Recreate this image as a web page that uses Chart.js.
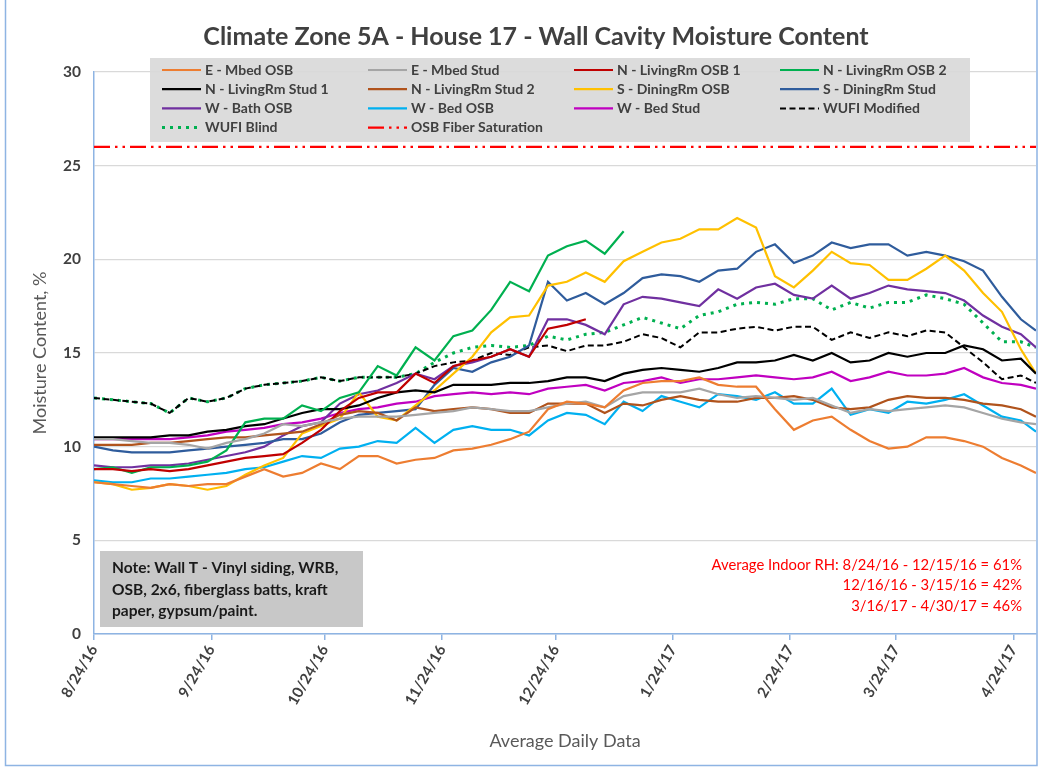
<!DOCTYPE html>
<html><head><meta charset="utf-8">
<script src="https://cdn.jsdelivr.net/npm/chart.js@4.4.0/dist/chart.umd.min.js"></script>
<style>html,body{margin:0;padding:0;background:#fff;}#wrap{width:1049px;height:768px;position:relative;}</style>
</head><body><div id="wrap"><canvas id="c" width="1049" height="768"></canvas></div>
<script>
// Day offsets from 8/24/16 at which values were read
const days = [0,5,10,15,20,25,30,35,40,45,50,55,60,65,70,75,80,85,90,95,100,105,110,115,120,125,130,135,140,145,150,155,160,165,170,175,180,185,190,195,200,205,210,215,220,225,230,235,240,245,249];
const tickDays = [0,31,61,92,122,153,184,212,243];
const tickLabels = ['8/24/16','9/24/16','10/24/16','11/24/16','12/24/16','1/24/17','2/24/17','3/24/17','4/24/17'];
const chartTitle = 'Climate Zone 5A - House 17 - Wall Cavity Moisture Content';
const seriesNames = ['E - Mbed OSB','E - Mbed Stud','N - LivingRm OSB 1','N - LivingRm OSB 2','N - LivingRm Stud 1','N - LivingRm Stud 2','S - DiningRm OSB','S - DiningRm Stud','W - Bath OSB','W - Bed OSB','W - Bed Stud','WUFI Modified','WUFI Blind','OSB Fiber Saturation'];

const mbedOSB = [8.1,8.0,7.9,7.8,8.0,7.9,8.0,8.0,8.4,8.8, 8.4,8.6,9.1,8.8,9.5,9.5,9.1,9.3,9.4,9.8, 9.9,10.1,10.4,10.8,12.0,12.4,12.3,12.1,13.0,13.4, 13.5,13.5,13.7,13.3,13.2,13.2,12.0,10.9,11.4,11.6, 10.9,10.3,9.9,10.0,10.5,10.5,10.3,10.0,9.4,9.0, 8.6];
const mbedStud = [10.4,10.4,10.3,10.2,10.2,10.1,9.9,10.2,10.4,10.7, 11.2,11.1,11.3,11.5,11.6,11.6,11.6,11.7,11.8,11.9, 12.1,12.0,11.9,11.9,12.1,12.3,12.4,12.1,12.7,12.9, 12.9,12.9,13.1,12.8,12.6,12.7,12.6,12.5,12.6,12.2, 11.8,12.0,11.9,12.0,12.1,12.2,12.1,11.8,11.5,11.3, 11.2];
const livOSB1 = [8.8,8.8,8.7,8.8,8.7,8.8,9.0,9.2,9.4,9.5, 9.6,10.2,10.9,11.9,12.6,12.9,12.9,13.9,13.4,14.3, 14.6,14.8,15.2,14.8,16.3,16.5,16.8];
const livOSB2 = [8.8,8.9,8.6,8.9,8.9,9.0,9.2,9.8,11.3,11.5, 11.5,12.2,11.9,12.6,12.9,14.3,13.8,15.3,14.6,15.9, 16.2,17.3,18.8,18.3,20.2,20.7,21.0,20.3,21.5];
const livStud1 = [10.5,10.5,10.5,10.5,10.6,10.6,10.8,10.9,11.1,11.2, 11.5,11.8,12.0,12.0,12.2,12.6,12.9,13.0,12.9,13.3, 13.3,13.3,13.4,13.4,13.5,13.7,13.7,13.5,13.9,14.1, 14.2,14.1,14.0,14.2,14.5,14.5,14.6,14.9,14.6,15.0, 14.5,14.6,15.0,14.8,15.0,15.0,15.4,15.2,14.6,14.7, 13.9];
const livStud2 = [10.1,10.1,10.1,10.2,10.2,10.3,10.4,10.5,10.5,10.6, 10.7,10.8,11.2,11.7,11.9,11.8,11.4,12.1,11.9,12.0, 12.1,12.0,11.8,11.8,12.3,12.3,12.3,11.8,12.3,12.2, 12.5,12.7,12.5,12.4,12.4,12.6,12.6,12.7,12.5,12.1, 12.0,12.1,12.5,12.7,12.6,12.6,12.5,12.3,12.2,12.0, 11.6];
const dinOSB = [8.1,8.0,7.7,7.8,8.0,7.9,7.7,7.9,8.5,9.0, 9.4,10.7,11.1,11.5,12.9,11.6,11.4,12.2,13.0,13.9, 14.8,16.1,16.9,17.0,18.6,18.8,19.3,18.8,19.9,20.4, 20.9,21.1,21.6,21.6,22.2,21.7,19.1,18.5,19.4,20.4, 19.8,19.7,18.9,18.9,19.5,20.2,19.4,18.2,17.2,15.2, 13.9];
const dinStud = [10.0,9.8,9.7,9.7,9.7,9.8,9.9,10.0,10.1,10.2, 10.4,10.4,10.7,11.3,11.7,11.8,11.9,12.0,13.3,14.2, 14.0,14.5,14.8,15.4,18.8,17.8,18.2,17.6,18.2,19.0, 19.2,19.1,18.8,19.4,19.5,20.4,20.8,19.8,20.2,20.9, 20.6,20.8,20.8,20.2,20.4,20.2,19.9,19.4,18.0,16.8, 16.2];
const bathOSB = [9.0,8.9,8.9,9.0,9.0,9.1,9.3,9.5,9.7,10.0, 10.6,11.1,11.3,12.3,12.8,13.0,13.4,13.9,13.6,14.3, 14.5,14.8,15.2,14.8,16.8,16.8,16.5,16.0,17.6,18.0, 17.9,17.7,17.5,18.4,17.9,18.5,18.7,18.1,17.9,18.6, 17.9,18.2,18.6,18.4,18.3,18.2,17.8,17.0,16.4,16.0, 15.3];
const bedOSB = [8.2,8.1,8.1,8.3,8.3,8.4,8.5,8.6,8.8,8.9, 9.2,9.5,9.4,9.9,10.0,10.3,10.2,11.0,10.2,10.9, 11.1,10.9,10.9,10.6,11.4,11.8,11.7,11.2,12.4,11.9, 12.7,12.4,12.1,12.8,12.7,12.5,12.9,12.3,12.3,13.1, 11.7,12.0,11.8,12.4,12.3,12.5,12.8,12.2,11.6,11.4, 10.8];
const bedStud = [10.4,10.4,10.4,10.4,10.4,10.5,10.6,10.8,10.9,11.0, 11.2,11.3,11.5,11.8,12.0,12.1,12.3,12.4,12.7,12.8, 12.9,12.8,12.9,12.8,13.1,13.2,13.3,13.0,13.4,13.5, 13.7,13.4,13.6,13.6,13.7,13.8,13.7,13.6,13.7,14.0, 13.5,13.7,14.0,13.8,13.8,13.9,14.2,13.7,13.4,13.3, 13.1];
const wufiModified = [12.6,12.5,12.4,12.3,11.8,12.6,12.4,12.6,13.1,13.3, 13.4,13.5,13.7,13.5,13.7,13.7,13.7,13.9,14.3,14.5, 14.6,15.0,14.9,15.3,15.4,15.1,15.4,15.4,15.6,16.0, 15.8,15.3,16.1,16.1,16.3,16.4,16.2,16.4,16.4,15.7, 16.1,15.8,16.1,15.9,16.2,16.1,15.3,14.5,13.6,13.8, 13.4];
const wufiBlind = [12.6,12.5,12.4,12.3,11.8,12.6,12.4,12.6,13.1,13.3, 13.4,13.5,13.7,13.5,13.7,13.7,13.7,13.9,14.5,15.0, 15.3,15.4,15.3,15.4,15.9,15.7,16.0,16.1,16.5,16.9, 16.6,16.3,17.0,17.2,17.6,17.7,17.6,17.9,17.9,17.3, 17.7,17.4,17.7,17.7,18.1,17.9,17.6,16.6,15.6,15.6, 15.3];
const fiberSaturation = 26;
const fiberDays = [0, 249];

const noteLines = ['Note: Wall T - Vinyl siding, WRB,','OSB, 2x6, fiberglass batts, kraft','paper, gypsum/paint.'];
const rhLines = ['Average Indoor RH: 8/24/16 - 12/15/16 = 61%','12/16/16 - 3/15/16 = 42%','3/16/17 - 4/30/17 = 46%'];

function pts(vals){ return vals.map((v,i)=>({x:days[i], y:v})); }
function ds(i, vals, color, extra){
  return Object.assign({label:seriesNames[i], data:pts(vals), borderColor:color, backgroundColor:color, borderWidth:2.2, pointRadius:0, tension:0, fill:false}, extra||{});
}
const datasets = [
  ds(0, mbedOSB, '#ED7D31'),
  ds(1, mbedStud, '#A5A5A5'),
  ds(2, livOSB1, '#C00000'),
  ds(3, livOSB2, '#00B050'),
  ds(4, livStud1, '#000000'),
  ds(5, livStud2, '#B0531C'),
  ds(6, dinOSB, '#FFC000'),
  ds(7, dinStud, '#2F5C9C'),
  ds(8, bathOSB, '#7030A0'),
  ds(9, bedOSB, '#00B0F0'),
  ds(10, bedStud, '#C000C0'),
  ds(11, wufiModified, '#000000', {borderDash:[6,3.5], borderWidth:2}),
  ds(12, wufiBlind, '#00B050', {borderDash:[3,5], borderWidth:3}),
  {label:seriesNames[13], data:fiberDays.map(d=>({x:d,y:fiberSaturation})), borderColor:'#FF0000', backgroundColor:'#FF0000', borderWidth:2.2, borderDash:[16,5,2.5,5,2.5,5], pointRadius:0, fill:false}
];

const decor = {
  id:'decor',
  afterDraw(chart){
    const ctx = chart.ctx, ca = chart.chartArea;
    ctx.save();
    // outer frame
    ctx.strokeStyle = '#8EB4E3'; ctx.lineWidth = 1.5;
    ctx.beginPath(); ctx.moveTo(5.5,0); ctx.lineTo(5.5,765.5); ctx.lineTo(ca.right+1,765.5); ctx.lineTo(ca.right+1,0); ctx.stroke();
    // title
    ctx.fillStyle = '#404040'; ctx.font = 'bold 25px Lato'; ctx.textAlign = 'center'; ctx.textBaseline = 'middle';
    ctx.fillText(chartTitle, 536, 37);
    // legend box
    ctx.fillStyle = 'rgba(216,216,216,0.9)';
    ctx.fillRect(150, 58, 820, 84);
    ctx.font = 'bold 14px Lato'; ctx.textAlign = 'left'; ctx.textBaseline = 'middle';
    chart.data.datasets.forEach((d,i)=>{
      const col = i%4, row = Math.floor(i/4);
      const x0 = 162 + col*206, y = 70 + row*19.2;
      ctx.strokeStyle = d.borderColor; ctx.lineWidth = d.borderWidth;
      ctx.setLineDash(d.borderDash || []);
      ctx.beginPath(); ctx.moveTo(x0, y); ctx.lineTo(x0+39, y); ctx.stroke();
      ctx.setLineDash([]);
      ctx.fillStyle = '#404040';
      ctx.fillText(d.label, x0+43, y);
    });
    // note box
    ctx.fillStyle = '#C8C8C8';
    ctx.fillRect(100, 551, 263, 76);
    ctx.fillStyle = '#1A1A1A'; ctx.font = 'bold 15.5px Lato'; ctx.textAlign='left';
    noteLines.forEach((t,i)=>ctx.fillText(t, 112, 568 + i*21.5));
    // RH text
    ctx.fillStyle = '#FF0000'; ctx.font = '14.8px Lato'; ctx.textAlign = 'right';
    rhLines.forEach((t,i)=>ctx.fillText(t, 1022, 565 + i*20.5));
    ctx.restore();
  }
};

new Chart(document.getElementById('c'), {
  type:'line',
  data:{datasets},
  options:{
    responsive:false, animation:false, devicePixelRatio:1,
    layout:{padding:{left:0,right:13,top:72,bottom:0}},
    plugins:{legend:{display:false}, tooltip:{enabled:false}, title:{display:false}},
    scales:{
      x:{type:'linear', min:0, max:249,
        afterBuildTicks:(s)=>{ s.ticks = tickDays.map(v=>({value:v})); },
        afterFit:(s)=>{ s.height = 134; },
        ticks:{autoSkip:false, minRotation:60, maxRotation:60, padding:2, color:'#404040', font:{family:'Lato', size:15, weight:'bold'},
          callback:(v)=>{ const k = tickDays.indexOf(v); return k>=0 ? tickLabels[k] : ''; }},
        grid:{drawOnChartArea:false, drawTicks:true, tickLength:6, color:'#8EB4E3', lineWidth:1.5},
        border:{color:'#8EB4E3', width:1.5},
        title:{display:true, text:'Average Daily Data', color:'#595959', font:{family:'Lato', size:18}, padding:{top:0,bottom:16}}
      },
      y:{min:0, max:30,
        afterFit:(s)=>{ s.width = 94; },
        ticks:{stepSize:5, padding:13, color:'#404040', font:{family:'Lato', size:15.5, weight:'bold'}},
        grid:{color:'#D9D9D9', drawTicks:false, lineWidth:1.2},
        border:{color:'#8EB4E3', width:1.5},
        title:{display:true, text:'Moisture Content, %', color:'#595959', font:{family:'Lato', size:18}, padding:{top:29,bottom:0}}
      }
    }
  },
  plugins:[decor]
});
</script></body></html>
